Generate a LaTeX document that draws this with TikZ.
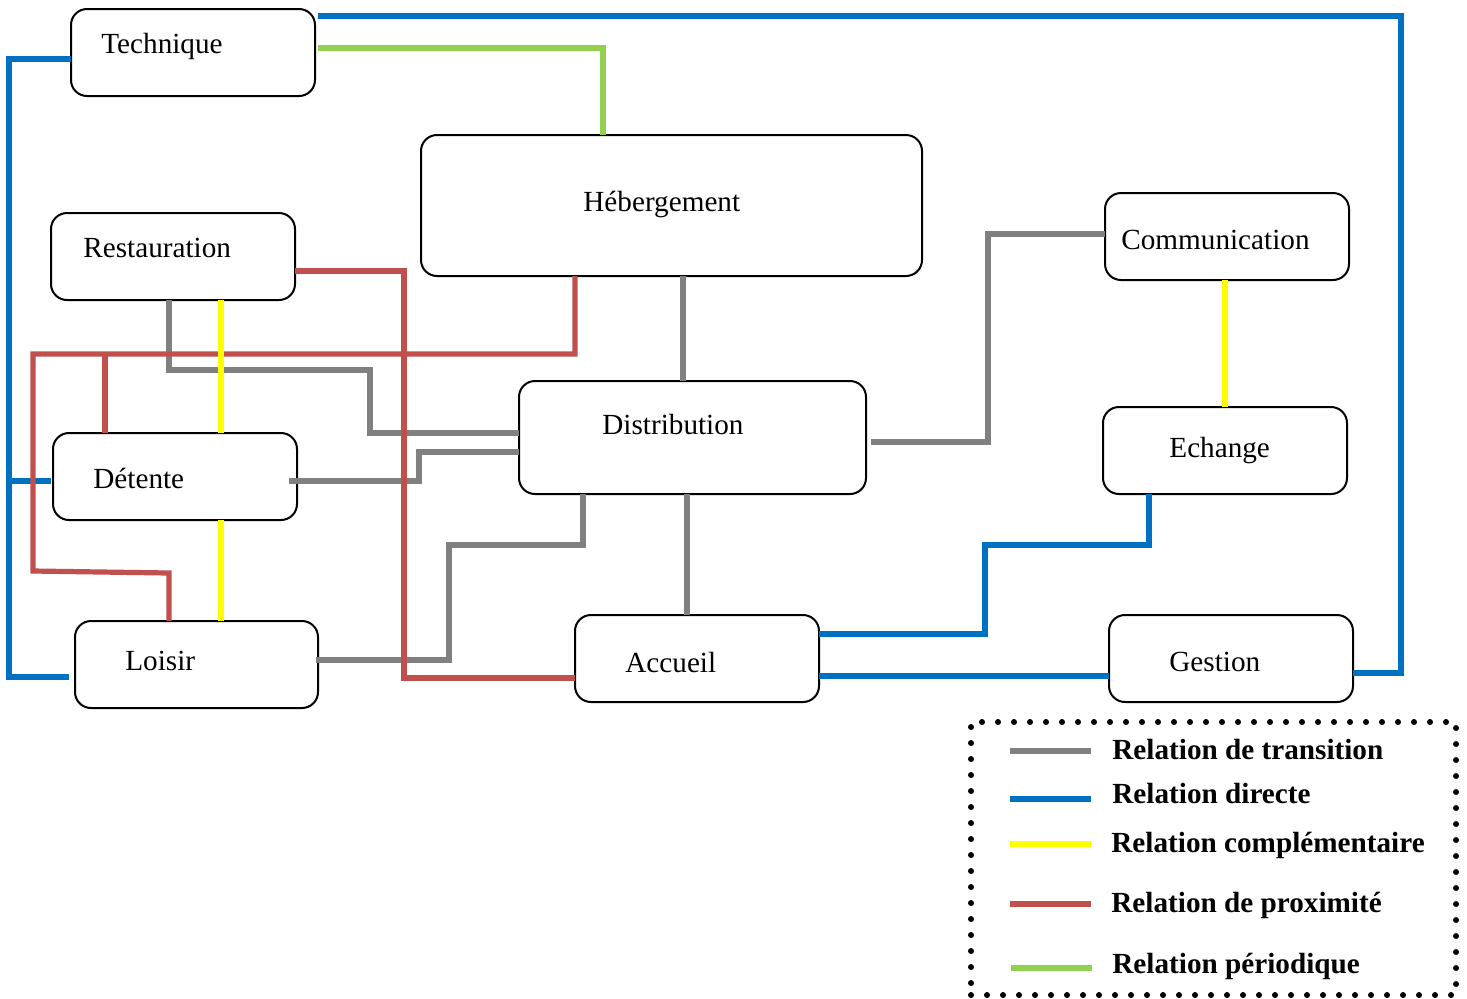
\documentclass[tikz,border=0pt]{standalone}
\usepackage{fontspec}
\setmainfont{Liberation Serif}
\usetikzlibrary{calc}
\definecolor{cgray}{RGB}{128,128,128}
\definecolor{cblue}{RGB}{0,112,192}
\definecolor{cyel}{RGB}{255,255,0}
\definecolor{cred}{RGB}{192,80,77}
\definecolor{cgreen}{RGB}{146,208,80}
\begin{document}
\begin{tikzpicture}[x=0.5pt,y=-0.5pt,
  box/.style={draw=black, line width=1pt, rounded corners=8pt, inner sep=0pt, outer sep=0pt, anchor=north west},
  lab/.style={inner sep=0pt, anchor=base west, font=\fontsize{14.6}{17}\selectfont},
  leglab/.style={inner sep=0pt, anchor=base west, font=\fontsize{14.6}{17}\selectfont\bfseries},
  conn/.style={line width=2.6pt, line join=miter},
  grayl/.style={conn, draw=cgray},
  bluel/.style={conn, draw=cblue, line width=2.8pt},
  redl/.style={conn, draw=cred},
  yell/.style={conn, draw=cyel},
  greenl/.style={conn, draw=cgreen},
  dotframe/.style={draw=black, line width=3pt, line cap=round, dash pattern=on 0pt off 8pt, inner sep=0pt, outer sep=0pt, anchor=north west}
]
\useasboundingbox (0,0) rectangle (1467,998);

% boxes
\node[box, minimum width=122pt, minimum height=43.5pt] (tech) at (71,9) {};
\node[box, minimum width=250.5pt, minimum height=70.5pt] (heb) at (421,135) {};
\node[box, minimum width=122pt, minimum height=43.5pt] (rest) at (51,213) {};
\node[box, minimum width=122pt, minimum height=43.5pt] (comm) at (1105,193) {};
\node[box, minimum width=173.5pt, minimum height=56.5pt] (dist) at (519,381) {};
\node[box, minimum width=122pt, minimum height=43.5pt] (ech) at (1103,407) {};
\node[box, minimum width=122pt, minimum height=43.5pt] (det) at (53,433) {};
\node[box, minimum width=121.5pt, minimum height=43.5pt] (lois) at (75,621) {};
\node[box, minimum width=122pt, minimum height=43.5pt] (acc) at (575,615) {};
\node[box, minimum width=122pt, minimum height=43.5pt] (gest) at (1109,615) {};

% labels
\node[lab] (ttech) at (101,53) {Technique};
\node[lab] (theb) at (583,211) {Hébergement};
\node[lab] (trest) at (83,257) {Restauration};
\node[lab] (tcomm) at (1121,249) {Communication};
\node[lab] (tdist) at (602,434) {Distribution};
\node[lab] (tech2) at (1169,457) {Echange};
\node[lab] (tdet) at (93,488) {Détente};
\node[lab] (tlois) at (125,670) {Loisir};
\node[lab] (tacc) at (625,672) {Accueil};
\node[lab] (tgest) at (1169,671) {Gestion};

% gray: transition
\draw[grayl] (169,0 |- rest.south) -- (169,370) -- (370,370) -- (370,433) -- (dist.west |- 0,433);
\draw[grayl] ($(det.east |- 0,481)+(-4pt,0)$) -- (419,481) -- (419,452) -- (dist.west |- 0,452);
\draw[grayl] (583,0 |- dist.south) -- (583,545) -- (449,545) -- (449,660) -- ($(lois.east |- 0,660)+(-1pt,0)$);
\draw[grayl] (683,0 |- heb.south) -- (683,0 |- dist.north);
\draw[grayl] (687,0 |- dist.south) -- (687,0 |- acc.north);
\draw[grayl] ($(dist.east |- 0,442)+(2.5pt,0)$) -- (988,442) -- (988,234) -- (comm.west |- 0,234);

% blue: directe
\coordinate (jb) at (9,481);
\draw[bluel] (tech.west |- 0,59) -- (9,59) -- (9,677) -- ($(lois.west |- 0,677)+(-3pt,0)$);
\draw[bluel] (jb) -- ($(det.west |- 0,481)+(-1pt,0)$);
\draw[bluel] ($(tech.east |- 0,16)+(1.5pt,0)$) -- (1401,16) -- (1401,673) -- (gest.east |- 0,673);
\draw[bluel] (1149,0 |- ech.south) -- (1149,545) -- (985,545) -- (985,634) -- (acc.east |- 0,634);
\draw[bluel] (acc.east |- 0,676) -- (gest.west |- 0,676);

% red: proximite
\coordinate (jr) at (105,354);
\draw[redl] (rest.east |- 0,271) -- (404,271) -- (404,678) -- (acc.west |- 0,678);
\draw[redl] (575,0 |- heb.south) -- (575,354) -- (33,354) -- (33,571) -- (169,573) -- (169,0 |- lois.north);
\draw[redl] (jr) -- (105,0 |- det.north);

% yellow: complementaire
\draw[yell] (221,0 |- rest.south) -- (221,0 |- det.north);
\draw[yell] (221,0 |- det.south) -- (221,0 |- lois.north);
\draw[yell] (1225,0 |- comm.south) -- (1225,0 |- ech.north);

% green: periodique
\draw[greenl] ($(tech.east |- 0,48)+(1.5pt,0)$) -- (603,48) -- (603,0 |- heb.north);

% legend
\node[dotframe, minimum width=242.5pt, minimum height=136.5pt] (leg) at (971,722) {};
\draw[grayl] (1010,751) -- (1091,751);
\draw[bluel, line width=2.6pt] (1010,799) -- (1091,799);
\draw[yell] (1010,844) -- (1091,844);
\draw[redl] (1010,904) -- (1091,904);
\draw[greenl] (1011,968) -- (1092,968);
\node[leglab] (l1) at (1112,759) {Relation de transition};
\node[leglab] (l2) at (1112,803) {Relation directe};
\node[leglab] (l3) at (1111,852) {Relation complémentaire};
\node[leglab] (l4) at (1111,912) {Relation de proximité};
\node[leglab] (l5) at (1112,973) {Relation périodique};
\end{tikzpicture}
\end{document}
